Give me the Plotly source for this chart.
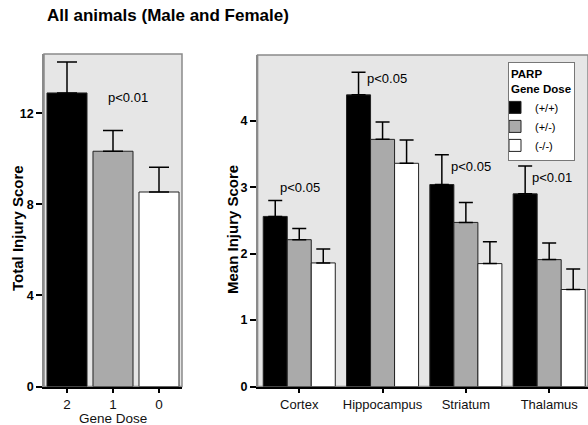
import plotly.graph_objects as go

# ---- data ----
dose_labels = ["2", "1", "0"]
total_score = [12.89, 10.33, 8.54]
total_err = [1.36, 0.91, 1.09]
total_colors = ["#000000", "#aaaaaa", "#ffffff"]

regions = ["Cortex", "Hippocampus", "Striatum", "Thalamus"]
series_names = ["(+/+)", "(+/-)", "(-/-)"]
mean_pp = [2.56, 4.39, 3.04, 2.90]
err_pp = [0.24, 0.34, 0.45, 0.42]
mean_pm = [2.21, 3.72, 2.47, 1.91]
err_pm = [0.17, 0.26, 0.30, 0.25]
mean_mm = [1.86, 3.36, 1.85, 1.46]
err_mm = [0.21, 0.35, 0.33, 0.31]
series_colors = ["#000000", "#aaaaaa", "#ffffff"]

left_p = ("p<0.01", 1.32, 12.7)
right_p = [("p<0.05", 0.01, 3.0), ("p<0.05", 1.05, 4.64),
           ("p<0.05", 2.06, 3.31), ("p<0.01", 3.03, 3.15)]

FONT = "Liberation Sans, Arial, Helvetica, sans-serif"
W, H = 588, 425

fig = go.Figure()

fig.add_trace(go.Bar(
    x=dose_labels, y=total_score, xaxis="x", yaxis="y",
    marker=dict(color=total_colors, line=dict(color="#222222", width=1)),
    error_y=dict(type="data", array=total_err, arrayminus=[0, 0, 0], symmetric=False,
                 color="#000000", thickness=1.5, width=10),
    showlegend=False, width=0.87,
))

for name, vals, errs, col in zip(series_names, [mean_pp, mean_pm, mean_mm],
                                 [err_pp, err_pm, err_mm], series_colors):
    fig.add_trace(go.Bar(
        x=regions, y=vals, xaxis="x2", yaxis="y2", name=name,
        marker=dict(color=col, line=dict(color="#222222", width=1)),
        error_y=dict(type="data", array=errs, arrayminus=[0] * len(errs), symmetric=False,
                     color="#000000", thickness=1.5, width=7),
    ))

lx0, lx1 = 44 / W, 182 / W
rx0, rx1 = 257.6 / W, 1.0
yb, ylt, yrt = (H - 386.5) / H, (H - 54) / H, (H - 55) / H

xaxis_common = dict(showgrid=False, zeroline=False, ticks="outside", ticklen=5,
                    tickcolor="#000000", tickwidth=1.5, showline=True, automargin=False,
                    linecolor="#000000", linewidth=1.5)
yaxis_common = dict(showgrid=False, zeroline=False, ticks="outside", ticklen=6,
                    tickcolor="#000000", tickwidth=1.5, showline=True, automargin=False,
                    linecolor="#8a8a8a", linewidth=1.5)

fig.update_layout(
    width=W, height=H, autosize=False,
    margin=dict(l=0, r=0, t=0, b=0),
    paper_bgcolor="#ffffff", plot_bgcolor="#e6e6e6",
    barmode="group", bargap=0.135, bargroupgap=0.0,
    font=dict(family=FONT, size=13, color="#000000"),
    xaxis=dict(domain=[lx0, lx1], anchor="y", type="category", range=[-0.5, 2.5],
               tickfont=dict(size=13.5, color="#111111"), **xaxis_common),
    yaxis=dict(domain=[yb, ylt], anchor="x", range=[0, 14.6], tickvals=[0, 4, 8, 12],
               tickfont=dict(size=12.5, weight="bold"), **yaxis_common),
    xaxis2=dict(domain=[rx0, rx1], anchor="y2", type="category", range=[-0.5, 3.466],
                tickfont=dict(size=13, color="#111111"), **xaxis_common),
    yaxis2=dict(domain=[yb, yrt], anchor="x2", range=[0, 4.99], tickvals=[0, 1, 2, 3, 4],
                tickfont=dict(size=12.5, weight="bold"), **yaxis_common),
    legend=dict(
        x=508 / W, y=(H - 62) / H, xanchor="left", yanchor="top",
        bgcolor="#ffffff", bordercolor="#777777", borderwidth=1,
        font=dict(size=11), title=dict(text="<b>PARP<br>Gene Dose</b>", font=dict(size=11.5)),
        itemwidth=30, tracegroupgap=0, indentation=-14,
    ),
)

# plot borders
for xd, yd in [("x domain", "y domain"), ("x2 domain", "y2 domain")]:
    fig.add_shape(type="rect", xref=xd, yref=yd, x0=0, x1=1, y0=0, y1=1,
                  line=dict(color="#8a8a8a", width=1.5), layer="below")

ann = []
ann.append(dict(text="<b>All animals (Male and Female)</b>", xref="paper", yref="paper",
                x=45 / W, y=(H - 16) / H, xanchor="left", yanchor="middle",
                showarrow=False, font=dict(size=17)))
ann.append(dict(text="<b>Total Injury Score</b>", xref="paper", yref="paper",
                x=17 / W, y=(H - 228) / H, textangle=-90, xanchor="center", yanchor="middle",
                showarrow=False, font=dict(size=15)))
ann.append(dict(text="<b>Mean Injury Score</b>", xref="paper", yref="paper",
                x=232 / W, y=(H - 230) / H, textangle=-90, xanchor="center", yanchor="middle",
                showarrow=False, font=dict(size=15)))
ann.append(dict(text="Gene Dose", xref="paper", yref="paper",
                x=113 / W, y=(H - 418) / H, xanchor="center", yanchor="middle",
                showarrow=False, font=dict(size=13.5, color="#111111")))
t, xv, yv = left_p
ann.append(dict(text=t, xref="x", yref="y", x=xv, y=yv, showarrow=False,
                xanchor="center", yanchor="middle", font=dict(size=13)))
for t, xv, yv in right_p:
    ann.append(dict(text=t, xref="x2", yref="y2", x=xv, y=yv, showarrow=False,
                    xanchor="center", yanchor="middle", font=dict(size=13)))
fig.update_layout(annotations=ann)

fig.write_html("out.html", post_script="document.body.style.margin='0';",
               config={"displayModeBar": False})
